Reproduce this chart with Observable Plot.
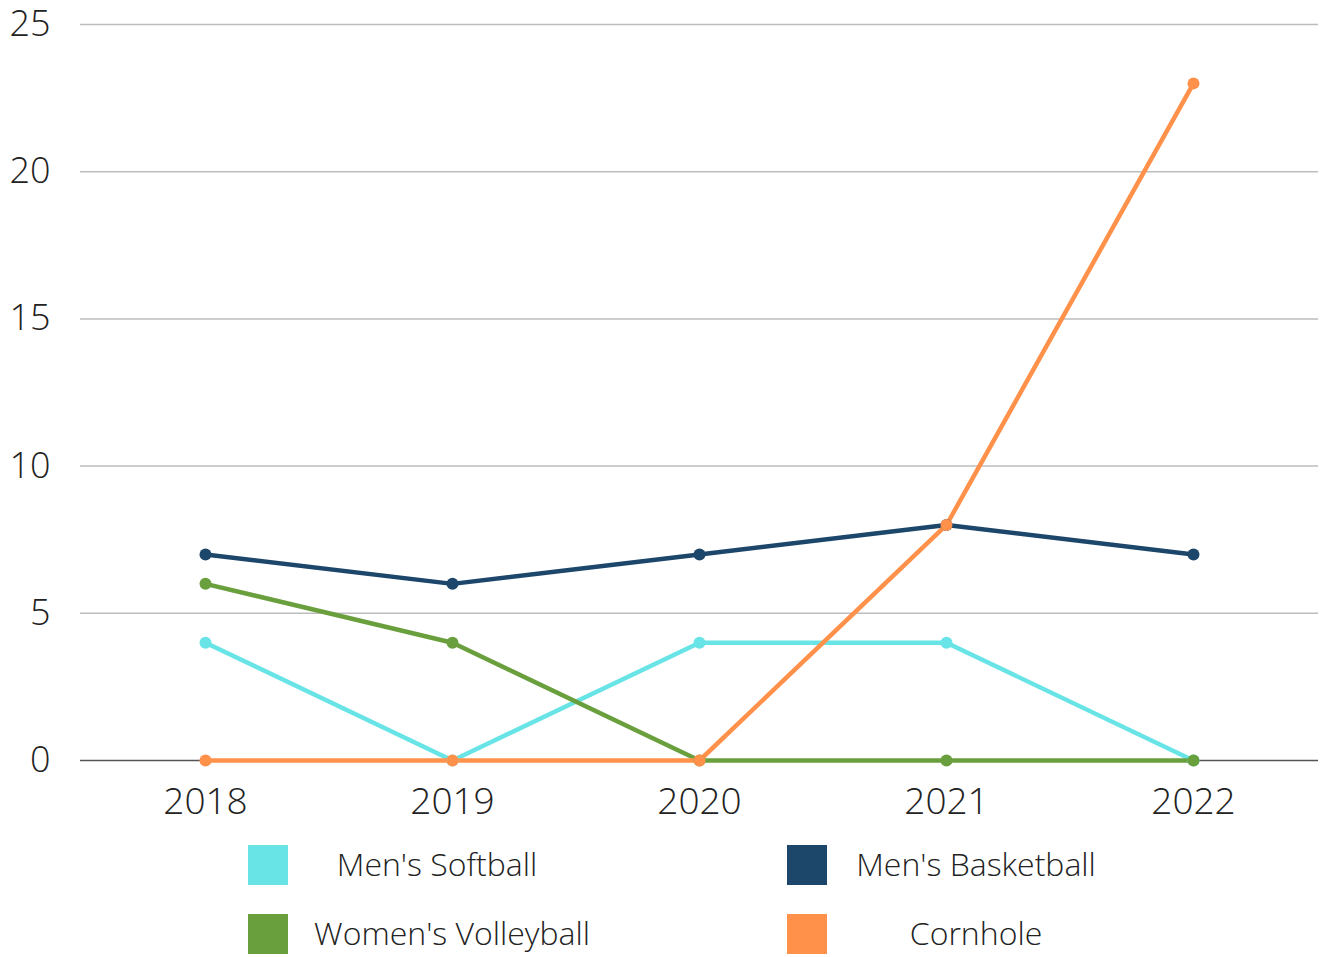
<!DOCTYPE html>
<html>
<head>
<meta charset="utf-8">
<script src="https://cdn.jsdelivr.net/npm/d3@7"></script>
<script src="https://cdn.jsdelivr.net/npm/@observablehq/plot@0.6"></script>
<style>
  body { margin: 0; background: #fff; font-family: "Open Sans", sans-serif; }
  #wrap { position: relative; width: 1323px; height: 957px; }
  .leg { position: absolute; font-size: 32px; font-weight: 300; color: #222; white-space: nowrap; }
  .sw { position: absolute; width: 40px; height: 40px; }
</style>
</head>
<body>
<div id="wrap"></div>
<script>
const years = ["2018", "2019", "2020", "2021", "2022"];
const seriesNames = ["Men's Softball", "Men's Basketball", "Women's Volleyball", "Cornhole"];
const seriesColors = ["#69e4e6", "#1d466b", "#6a9f3d", "#ff914b"];
const mensSoftball = [4, 0, 4, 4, 0];
const mensBasketball = [7, 6, 7, 8, 7];
const womensVolleyball = [6, 4, 0, 0, 0];
const cornhole = [0, 0, 0, 8, 23];
const yTicks = [0, 5, 10, 15, 20, 25];

const allValues = [mensSoftball, mensBasketball, womensVolleyball, cornhole];
const data = [];
seriesNames.forEach((s, i) => years.forEach((y, j) => data.push({series: s, year: y, value: allValues[i][j]})));

const chart = Plot.plot({
  width: 1323,
  height: 830,
  marginTop: 24,
  marginBottom: 70,
  marginLeft: 80,
  marginRight: 5,
  style: { fontFamily: "Open Sans, sans-serif", fontWeight: 300, fontSize: "36px", color: "#222", background: "#fff", overflow: "visible" },
  x: { type: "point", domain: years, padding: 0.5, label: null },
  y: { domain: [0, 25], label: null },
  color: { domain: seriesNames, range: seriesColors },
  marks: [
    Plot.ruleY(yTicks.filter(d => d !== 0), { stroke: "#bdbdbd", strokeWidth: 1.5 }),
    Plot.ruleY([0], { stroke: "#555", strokeWidth: 1.5 }),
    Plot.axisY({ ticks: yTicks, tickSize: 0, tickPadding: 30, fontSize: 36, fill: "#222", label: null }),
    Plot.axisX({ tickSize: 0, tickPadding: 27, fontSize: 37, fill: "#222", label: null }),
    Plot.line(data, { x: "year", y: "value", z: "series", stroke: "series", strokeWidth: 4.5 }),
    Plot.dot(data, { x: "year", y: "value", fill: "series", r: 6, stroke: "none" })
  ]
});
chart.style.position = "absolute";
chart.style.left = "0px";
chart.style.top = "0px";
const wrap = document.getElementById("wrap");
wrap.appendChild(chart);

// Legend
const legPos = [
  { sx: 248, sy: 845, cx: 437 },
  { sx: 787, sy: 845, cx: 976 },
  { sx: 248, sy: 914, cx: 452 },
  { sx: 787, sy: 914, cx: 976 }
];
seriesNames.forEach((name, i) => {
  const p = legPos[i];
  const sw = document.createElement("div");
  sw.className = "sw";
  sw.style.left = p.sx + "px";
  sw.style.top = p.sy + "px";
  sw.style.background = seriesColors[i];
  wrap.appendChild(sw);
  const t = document.createElement("div");
  t.className = "leg";
  t.textContent = name;
  t.style.left = p.cx + "px";
  t.style.top = (p.sy + 18) + "px";
  t.style.transform = "translate(-50%, -50%)";
  wrap.appendChild(t);
});
</script>
</body>
</html>
